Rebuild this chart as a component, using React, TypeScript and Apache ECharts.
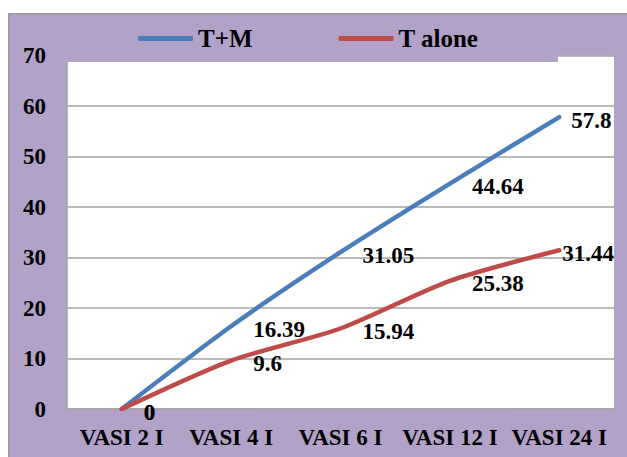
import React, { useEffect, useRef } from "react";
import * as echarts from "echarts";

const categories = ["VASI 2 I", "VASI 4 I", "VASI 6 I", "VASI 12 I", "VASI 24 I"];
const tmValues = [0, 16.39, 31.05, 44.64, 57.8];
const tAloneValues = [0, 9.6, 15.94, 25.38, 31.44];
const seriesNames = ["T+M", "T alone"];

const FONT = '"Liberation Serif", "Times New Roman", serif';
const PURPLE = "#b3a2c7";
const GRID_GRAY = "#a3a3a3";

export default function App() {
  const ref = useRef<HTMLDivElement>(null);

  useEffect(() => {
    if (!ref.current) return;
    const chart = echarts.init(ref.current, undefined, { renderer: "svg" });

    const labelBase = {
      show: true,
      position: "right",
      distance: 22,
      offset: [0, 3],
      color: "#000",
      fontFamily: FONT,
      fontWeight: "bold",
      fontSize: 23,
    };
    const lastDistanceTM = 12;
    const lastDistanceT = 3;

    const buildData = (vals: number[], lastDist: number) =>
      vals.map((v, i) =>
        i === vals.length - 1 ? { value: v, label: { distance: lastDist } } : { value: v }
      );

    const axisText = {
      color: "#000",
      fontFamily: FONT,
      fontWeight: "bold",
      fontSize: 23,
    };

    chart.setOption({
      animation: false,
      backgroundColor: PURPLE,
      grid: {
        left: 59,
        right: 13,
        top: 42.5,
        bottom: 48,
        show: true,
        backgroundColor: "#ffffff",
        borderWidth: 0,
      },
      graphic: [
        {
          type: "rect",
          z: 3,
          shape: { x: 0, y: 0, width: 550, height: 49 },
          style: { fill: PURPLE },
          silent: true,
        },
        {
          type: "rect",
          z: 10,
          shape: { x: 0.75, y: 0.75, width: 700, height: 600 },
          style: { fill: "transparent", stroke: "#999999", lineWidth: 1.5 },
          silent: true,
        },
      ],
      legend: {
        left: 125,
        top: 8,
        z: 5,
        icon: "roundRect",
        itemWidth: 55,
        itemHeight: 5,
        itemGap: 86,
        data: seriesNames,
        textStyle: {
          color: "#000",
          fontFamily: FONT,
          fontWeight: "bold",
          fontSize: 25,
        },
      },
      xAxis: {
        type: "category",
        data: categories,
        boundaryGap: true,
        axisLine: { show: true, lineStyle: { color: GRID_GRAY, width: 1.5 } },
        axisTick: { show: false },
        axisLabel: { ...axisText, margin: 17, interval: 0 },
      },
      yAxis: [
        {
          type: "value",
          min: 0,
          max: 70,
          interval: 10,
          z: 0,
          axisLine: { show: true, lineStyle: { color: GRID_GRAY, width: 1.5 } },
          axisTick: { show: false },
          splitLine: { show: true, lineStyle: { color: GRID_GRAY, width: 1.5 } },
          axisLabel: { show: false },
        },
        {
          type: "value",
          position: "left",
          min: 0,
          max: 70,
          interval: 10,
          z: 6,
          axisLine: { show: false },
          axisTick: { show: false },
          splitLine: { show: false },
          axisLabel: { ...axisText, margin: 21 },
        },
      ],
      series: [
        {
          name: seriesNames[0],
          type: "line",
          yAxisIndex: 0,
          data: buildData(tmValues, lastDistanceTM),
          smooth: 0.25,
          symbol: "circle",
          symbolSize: 0.1,
          showSymbol: true,
          lineStyle: { color: "#4a7ebb", width: 4.5, cap: "round" },
          itemStyle: { color: "#4a7ebb" },
          label: labelBase,
        },
        {
          name: seriesNames[1],
          type: "line",
          yAxisIndex: 0,
          data: buildData(tAloneValues, lastDistanceT),
          smooth: 0.25,
          symbol: "circle",
          symbolSize: 0.1,
          showSymbol: true,
          lineStyle: { color: "#be4b48", width: 4.5, cap: "round" },
          itemStyle: { color: "#be4b48" },
          label: labelBase,
        },
      ],
    });

    return () => chart.dispose();
  }, []);

  return (
    <div
      style={{
        position: "absolute",
        left: 0,
        top: 0,
        width: 627,
        height: 457,
        background: "#ffffff",
        overflow: "hidden",
      }}
    >
      <div
        ref={ref}
        style={{ position: "absolute", left: 8, top: 13, width: 619, height: 444 }}
      />
    </div>
  );
}
